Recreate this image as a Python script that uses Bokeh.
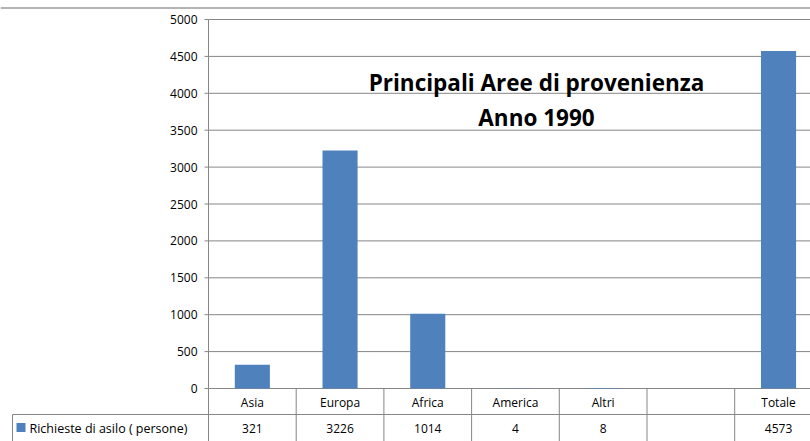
from bokeh.plotting import figure
from bokeh.models import Range1d
from bokeh.core.properties import value
from bokeh.embed import file_html
from bokeh.resources import INLINE

# ---- data ----
categories = ["Asia", "Europa", "Africa", "America", "Altri", "", "Totale"]
values = [321, 3226, 1014, 4, 8, None, 4573]
value_labels = ["321", "3226", "1014", "4", "8", "", "4573"]
y_ticks = [0, 500, 1000, 1500, 2000, 2500, 3000, 3500, 4000, 4500, 5000]
series_name = "Richieste di asilo ( persone)"
title_lines = ["Principali Aree di provenienza", "Anno 1990"]

# ---- layout (page pixels) ----
X0, CW = 208.0, 87.7          # left edge of first category, category width
Y0, YS = 388.0, 369.0 / 5000  # pixel of value 0, pixels per unit
PAGE_L, PAGE_T, W, H = 0, 0, 810, 441

def dx(px):
    return (px - X0) / CW

def dy(py):
    return (Y0 - py) / YS

p = figure(width=W, height=H, output_backend="svg", toolbar_location=None,
           x_range=Range1d(dx(PAGE_L), dx(PAGE_L + W)),
           y_range=Range1d(dy(PAGE_T + H), dy(PAGE_T)),
           x_axis_location=None, y_axis_location=None,
           min_border=0, outline_line_color=None)
p.grid.visible = False
p.background_fill_color = "white"

GRID = "#868686"
FONT = value("Open Sans")
BAR = "#4F81BD"
n = len(categories)

# top page line
p.segment(x0=[dx(PAGE_L)], x1=[dx(PAGE_L + W)], y0=[dy(7.5)], y1=[dy(7.5)],
          line_color="#9a9a9a", line_width=1.5)

# gridlines
gl = [t for t in y_ticks]
p.segment(x0=[0] * len(gl), x1=[n] * len(gl), y0=gl, y1=gl, line_color=GRID, line_width=1)
# y axis line and ticks
p.segment(x0=[0], x1=[0], y0=[0], y1=[y_ticks[-1]], line_color=GRID, line_width=1)
p.segment(x0=[dx(X0 - 4)] * len(gl), x1=[0] * len(gl), y0=gl, y1=gl, line_color=GRID, line_width=1)
p.text(x=[0] * len(gl), y=gl, text=[str(t) for t in y_ticks], x_offset=-11,
       text_align="right", text_baseline="middle", text_font=FONT,
       text_font_size="12px", text_color="#000000")

# bars
xs = [i + 0.5 for i in range(n) if values[i] is not None]
tops = [v for v in values if v is not None]
p.vbar(x=xs, top=tops, bottom=0, width=0.4, fill_color=BAR, line_color=None)

# data table
row_y = dy(414)
bottom_y = dy(PAGE_T + H + 5)
p.segment(x0=[dx(12)], x1=[n], y0=[row_y], y1=[row_y], line_color=GRID, line_width=1)
p.segment(x0=list(range(n + 1)), x1=list(range(n + 1)),
          y0=[0] * (n + 1), y1=[bottom_y] * (n + 1), line_color=GRID, line_width=1)
p.segment(x0=[dx(12)], x1=[dx(12)], y0=[row_y], y1=[bottom_y], line_color=GRID, line_width=1)

cx = [i + 0.5 for i in range(n)]
p.text(x=cx, y=[dy(402)] * n, text=categories, text_align="center", text_baseline="middle",
       text_font=FONT, text_font_size="12px", text_color="#000000")
p.text(x=cx, y=[dy(428)] * n, text=value_labels, text_align="center", text_baseline="middle",
       text_font=FONT, text_font_size="12px", text_color="#000000")

# legend key in table
p.scatter(x=[dx(20.5)], y=[dy(427)], marker="square", size=9, fill_color=BAR, line_color=None)
p.text(x=[dx(29)], y=[dy(428)], text=[series_name], text_align="left", text_baseline="middle",
       text_font=FONT, text_font_size="12.5px", text_color="#000000")

# title
p.text(x=[dx(536)] * 2, y=[dy(82), dy(117)], text=title_lines, text_align="center",
       text_baseline="middle", text_font=FONT, text_font_size="22.5px",
       text_font_style="bold", text_color="#000000")

open("out.html", "w").write(file_html(p, INLINE))
